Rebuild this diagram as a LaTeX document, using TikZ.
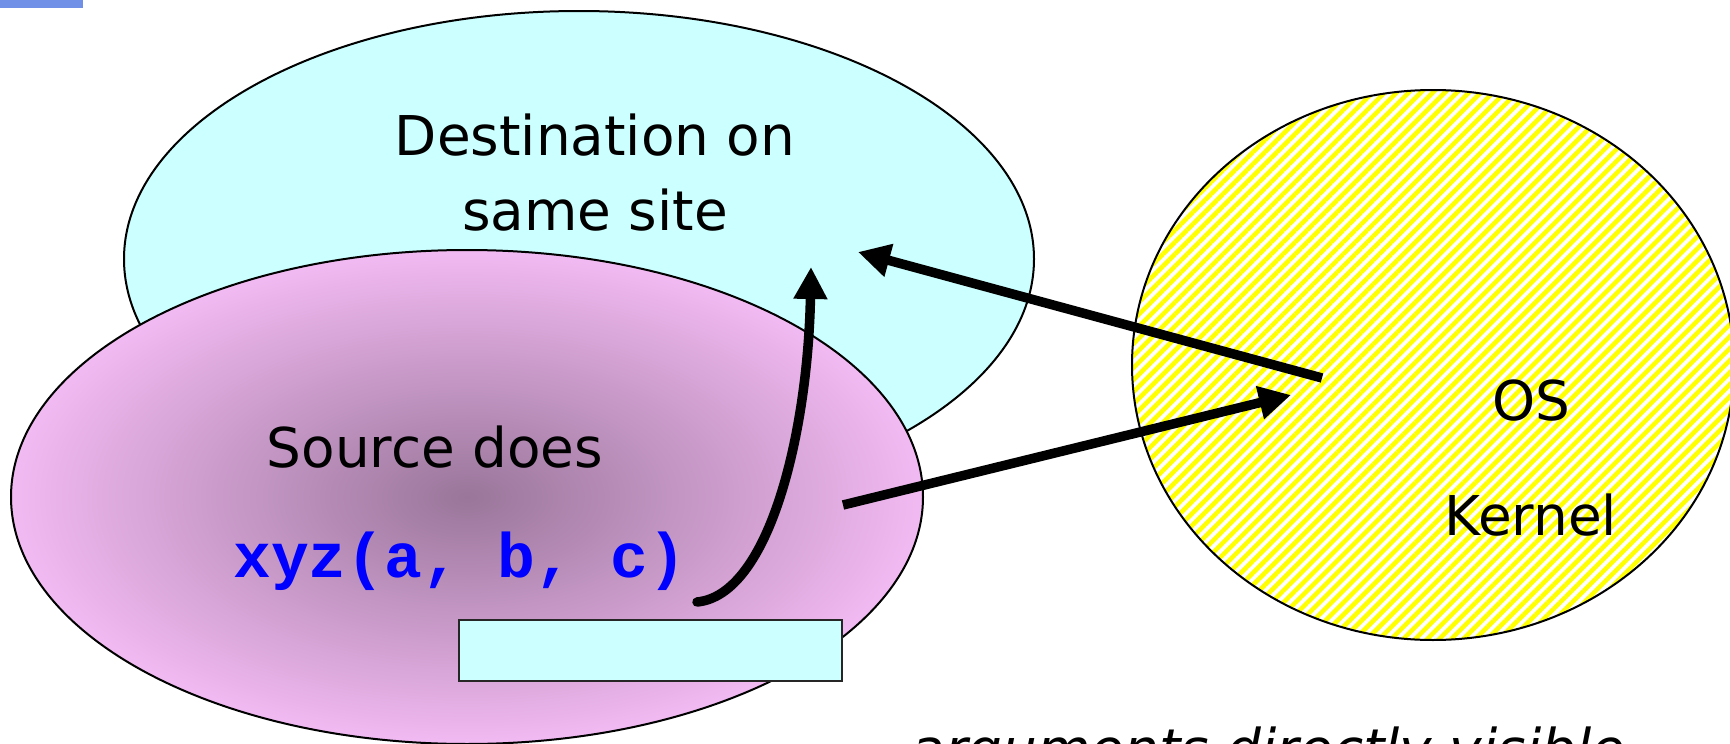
\documentclass[tikz,border=0pt]{standalone}
\usepackage{fontspec}
\setmainfont{DejaVu Sans}
\newfontfamily\codefont{Liberation Mono}
\usetikzlibrary{shapes.geometric,arrows.meta,patterns.meta}
\definecolor{destcyan}{RGB}{204,255,255}
\definecolor{srcin}{RGB}{154,118,154}
\definecolor{srcout}{RGB}{242,186,242}
\definecolor{barblue}{RGB}{112,144,232}
\definecolor{codeblue}{RGB}{0,0,255}

\begin{document}
\begin{tikzpicture}[x=0.1mm, y=-0.1mm,
    blob/.style={ellipse, draw=black, line width=0.2mm, inner sep=0pt},
    txt/.style={font=\fontsize{15.6}{21.3}\selectfont, inner sep=0pt, anchor=base},
    code/.style={font=\codefont\bfseries\fontsize{17.9}{20}\selectfont, text=codeblue, inner sep=0pt, anchor=base},
    arrow/.style={-{Triangle[length=3.2mm, width=3.2mm]}, line width=0.95mm}
]
\useasboundingbox (0,0) rectangle (1730,744);
\fill[barblue] (0,0) rectangle (83,8);

% the three regions
\node[blob, fill=destcyan, minimum width=91mm, minimum height=49.6mm] (dest) at (579,259) {};
\node[blob, shading=radial, inner color=srcin, outer color=srcout, minimum width=91.2mm, minimum height=49.4mm] (src) at (467,497) {};
\node[draw=black!85, line width=0.28mm, fill=destcyan, minimum width=38.3mm, minimum height=6.1mm, inner sep=0pt] (buf) at (650.5,650.5) {};
\node[blob, pattern={Lines[angle=45, distance=0.85mm, line width=0.45mm]}, pattern color=yellow, minimum width=60.2mm, minimum height=55mm] (kernel) at (1433,365) {};

% labels
\node[txt, align=center] (destlbl) at (595,230) {Destination on\\same site};
\node[txt] (srclbl) at (435,467) {Source does};
\node[code] (call) at (460,577) {xyz(a, b, c)};
\node[txt] (oslbl) at (1531,420) {OS};
\node[txt] (kernlbl) at (1531,535) {Kernel};
\node[txt, anchor=base west] (note) at (911,768) {\itshape arguments directly visible};

% arrows
\coordinate (callEnd) at (697,602);
\coordinate (destIn) at (811,267);
\coordinate (osOut) at (1322,378);
\coordinate (destHit) at (858,252);
\coordinate (srcOut) at (843,505);
\coordinate (osIn) at (1291,395);
\draw[arrow, line cap=round] (callEnd) .. controls (770,595) and (808,430) .. (destIn);
\draw[arrow] (osOut) -- (destHit);
\draw[arrow] (srcOut) -- (osIn);
\end{tikzpicture}
\end{document}
